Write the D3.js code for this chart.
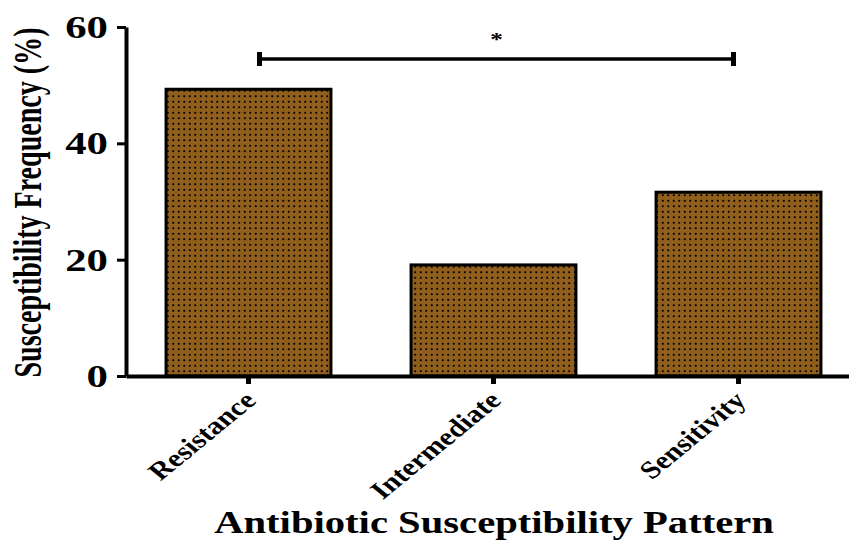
<!DOCTYPE html>
<html lang="en">
<head>
<meta charset="UTF-8">
<title>Antibiotic Susceptibility Pattern</title>
<script src="https://d3js.org/d3.v7.min.js"></script>
<style>
  body { margin: 0; background: #fff; }
  text { font-family: "Liberation Serif", "Times New Roman", serif; font-weight: bold; }
</style>
</head>
<body>
<div id="chart"></div>

<script>
// Data
const categories = ["Resistance", "Intermediate", "Sensitivity"];
const values = [49.3, 19.1, 31.6];
const yTicks = [0, 20, 40, 60];

const width = 849, height = 549;
const x0 = 126, x1 = 861, yTop = 27, yBottom = 376;

const svg = d3.select("#chart").append("svg")
  .attr("width", width)
  .attr("height", height);

// Dotted fill pattern
const pat = svg.append("defs").append("pattern")
  .attr("id", "dots")
  .attr("patternUnits", "userSpaceOnUse")
  .attr("width", 5.5)
  .attr("height", 5.5);
pat.append("rect").attr("width", 5.5).attr("height", 5.5).attr("fill", "#915f1d");
pat.append("rect").attr("x", 2).attr("y", 2).attr("width", 1.8).attr("height", 1.8)
  .attr("fill", "#000").attr("shape-rendering", "crispEdges");

// Scales
const xScale = d3.scaleBand()
  .domain(categories)
  .range([x0, x1])
  .paddingInner(0.327)
  .paddingOuter(0.1635);

const yScale = d3.scaleLinear()
  .domain([0, 60])
  .range([yBottom, yTop]);

// Bars
svg.selectAll(".bar")
  .data(values)
  .enter().append("rect")
  .attr("class", "bar")
  .attr("x", (d, i) => xScale(categories[i]))
  .attr("y", d => yScale(d))
  .attr("width", xScale.bandwidth())
  .attr("height", d => yScale(0) - yScale(d))
  .attr("fill", "url(#dots)")
  .attr("stroke", "#000")
  .attr("stroke-width", 3);

// Y axis
const yAxis = svg.append("g")
  .attr("transform", `translate(${x0},0)`)
  .call(d3.axisLeft(yScale).tickValues(yTicks).tickSize(9).tickSizeOuter(0));
yAxis.select(".domain").attr("stroke-width", 4);
yAxis.selectAll(".tick line").attr("stroke-width", 3);
yAxis.selectAll(".tick text")
  .style("font-size", "31px")
  .attr("fill", "#000")
  .attr("x", 0)
  .attr("dy", "0.34em")
  .attr("transform", "translate(-18,0) scale(1.38,1)");

// X axis
const xAxis = svg.append("g")
  .attr("transform", `translate(0,${yBottom})`)
  .call(d3.axisBottom(xScale).tickSize(8).tickSizeOuter(0));
xAxis.select(".domain").attr("stroke-width", 4);
xAxis.selectAll(".tick line").attr("stroke-width", 5);
xAxis.selectAll(".tick text")
  .style("font-size", "25px")
  .attr("fill", "#000")
  .attr("text-anchor", "end")
  .attr("dy", null)
  .attr("y", 0)
  .attr("transform", "translate(9,26) scale(1.22,1) rotate(-45)");

// Significance bracket
const bx1 = xScale(categories[0]) + xScale.bandwidth() / 2 + 11;
const bx2 = xScale(categories[2]) + xScale.bandwidth() / 2 - 5;
const by = 59;
const br = svg.append("g").attr("stroke", "#000");
br.append("line").attr("x1", bx1).attr("x2", bx2).attr("y1", by).attr("y2", by).attr("stroke-width", 3.5);
br.append("line").attr("x1", bx1).attr("x2", bx1).attr("y1", by - 7).attr("y2", by + 7).attr("stroke-width", 5);
br.append("line").attr("x1", bx2).attr("x2", bx2).attr("y1", by - 7).attr("y2", by + 7).attr("stroke-width", 5);
svg.append("text")
  .attr("transform", `translate(${(bx1 + bx2) / 2},46) scale(1.4,1)`)
  .attr("text-anchor", "middle")
  .style("font-size", "18px")
  .text("*");

// Axis titles
svg.append("text")
  .attr("transform", "scale(1.5,1) rotate(-90)")
  .attr("x", -(yTop + yBottom) / 2 - 1)
  .attr("y", 27.5)
  .attr("text-anchor", "middle")
  .attr("textLength", 350)
  .attr("lengthAdjust", "spacingAndGlyphs")
  .style("font-size", "27px")
  .text("Susceptibility Frequency (%)");

svg.append("text")
  .attr("transform", "translate(494,533) scale(1.27,1)")
  .attr("text-anchor", "middle")
  .style("font-size", "32px")
  .text("Antibiotic Susceptibility Pattern");
</script>
</body>
</html>
